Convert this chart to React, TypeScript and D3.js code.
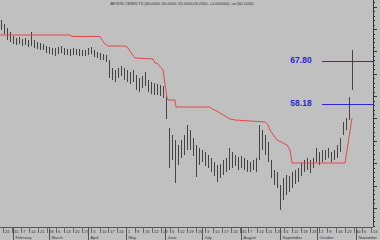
import React from "react";
import * as d3 from "d3";

const W = 380;
const H = 240;

const titleText =
  "AFXDN CM/ER.TD (60.0000, 60.0000, 65.0000,08.2000, +4.000000), ue (60.1000)";

// Daily bar highs / lows (price)
const highs = [
  77.03, 76.13, 75.24, 74.34, 73.45, 73.0, 73.22, 72.78, 73.0, 72.55,
  74.34, 72.55, 72.1, 71.88, 71.66, 71.21, 70.99, 70.76, 70.76, 70.99,
  71.21, 70.76, 70.54, 70.54, 70.76, 70.54, 70.54, 70.32, 70.32, 70.76,
  70.99, 70.32, 69.87, 69.65, 69.42, 69.2, 68.08, 66.29, 65.84, 66.29,
  66.74, 66.29, 65.84, 65.39, 65.84, 64.72, 64.05, 64.5, 65.39, 63.61,
  63.16, 62.93, 62.71, 62.49, 62.26, 60.25, 52.87, 51.3, 50.18, 49.07,
  50.18, 51.3, 53.54, 52.42, 50.63, 49.07, 48.4, 47.95, 47.5, 46.83,
  46.16, 45.26, 44.59, 44.82, 45.71, 46.16, 48.4, 47.5, 46.83, 46.38,
  46.61, 46.16, 45.71, 45.26, 45.71, 46.16, 53.54, 52.42, 51.3, 49.74,
  45.71, 43.47, 43.03, 40.12, 41.68, 42.36, 42.13, 43.03, 43.47, 43.92,
  45.04, 45.71, 46.16, 45.71, 46.16, 48.4, 47.5, 47.95, 47.95, 48.4,
  47.5, 47.95, 49.07, 50.63, 54.21, 55.11, 59.8, 70.32,
];
const lows = [
  74.79, 73.89, 72.55, 72.1, 71.66, 71.43, 71.66, 71.21, 71.43, 70.99,
  71.21, 70.76, 70.54, 70.32, 70.32, 69.65, 69.42, 69.2, 68.97, 69.42,
  69.65, 69.2, 69.2, 68.97, 69.2, 69.2, 68.97, 68.97, 68.97, 69.2,
  69.42, 68.75, 68.53, 68.08, 68.08, 67.63, 64.05, 63.61, 63.16, 64.05,
  64.5, 63.61, 63.16, 62.71, 63.16, 61.37, 60.92, 61.82, 62.26, 60.92,
  60.47, 60.25, 60.25, 60.03, 59.58, 54.88, 43.92, 45.71, 40.57, 44.59,
  46.16, 46.83, 47.95, 47.95, 46.61, 41.91, 44.59, 45.26, 44.37, 43.92,
  43.03, 42.13, 40.79, 41.68, 42.36, 43.03, 43.47, 43.92, 44.37, 43.47,
  43.92, 43.47, 43.03, 43.03, 43.47, 43.03, 45.71, 47.95, 46.83, 45.26,
  41.68, 40.12, 39.45, 34.53, 36.76, 37.88, 38.55, 39.45, 40.34, 40.79,
  42.13, 43.03, 43.47, 42.8, 43.92, 45.26, 44.59, 45.26, 45.71, 46.16,
  45.26, 45.71, 46.16, 47.5, 51.3, 52.42, 54.66, 61.37,
];

// Trailing stop (bar index, price)
const stopIdx = [
  -0.33, 23, 23.67, 33, 34.33, 35.67, 41.33, 42, 44.67, 50.67, 51.33, 52, 54,
  55.33, 55.67, 58, 58.33, 69.67, 70.33, 71.33, 76.33, 78, 88, 89, 89.67, 92,
  95.33, 96.33, 97, 114.67, 117,
];
const stopVal = [
  73.67, 73.67, 73.34, 73.34, 71.88, 71.21, 71.21, 70.99, 68.53, 68.3, 67.41,
  67.41, 65.84, 59.58, 59.13, 59.13, 57.57, 57.57, 57.12, 56.9, 54.88, 54.66,
  54.21, 53.54, 52.42, 50.18, 49.07, 47.95, 45.04, 45.04, 55.11,
];

// Horizontal level lines
const levels = [67.8, 58.18];
const levelLabels = ["67.80", "58.18"];

const dateStart = new Date(2000, 0, 21, 12);
const dateEnd = new Date(2000, 10, 14, 12);

const FONT = "Liberation Sans, Arial, sans-serif";

export default function App() {
  const plotRight = 373;
  const plotBottom = 227;

  const x = d3.scaleLinear().domain([0, highs.length - 1]).range([1, 352]);
  const y = d3.scaleLinear().domain([81.5, 30.5]).range([0, 228]);
  const t = d3.scaleTime().domain([dateStart, dateEnd]).range([0, plotRight]);

  const stopLine = d3
    .line<number>()
    .x((_, i) => x(stopIdx[i]))
    .y((d) => y(d))(stopVal);

  const yTicks = d3.range(31, 82, 1);
  const weeks = d3.timeMonday.range(dateStart, dateEnd);
  const months = d3.timeMonth.range(dateStart, dateEnd);
  const monthFmt = d3.timeFormat("%B");
  const dayFmt = d3.timeFormat("%-d");

  return (
    <svg
      width={W}
      height={H}
      style={{ position: "absolute", left: 0, top: 0, display: "block" }}
    >
      <rect x={0} y={0} width={W} height={H} fill="#c0c0c0" />
      <text
        x={182}
        y={5}
        fontSize={4}
        fontFamily={FONT}
        fill="#333"
        textAnchor="middle"
        textLength={143}
        lengthAdjust="spacingAndGlyphs"
      >
        {titleText}
      </text>

      {/* bars */}
      <g stroke="#444" strokeWidth={1}>
        {highs.map((h, i) => (
          <line
            key={i}
            x1={Math.round(x(i)) + 0.5}
            x2={Math.round(x(i)) + 0.5}
            y1={y(h)}
            y2={y(lows[i])}
          />
        ))}
      </g>

      {/* trailing stop */}
      <path d={stopLine || ""} fill="none" stroke="#e04a4a" strokeWidth={1} />

      {/* level lines */}
      {levels.map((lv, i) => (
        <g key={i}>
          <line
            x1={322}
            x2={plotRight}
            y1={Math.round(y(lv)) + 0.5}
            y2={Math.round(y(lv)) + 0.5}
            stroke="#2828d8"
            strokeWidth={1}
          />
          <text
            x={301}
            y={y(lv) + 1.5}
            fontSize={8.5}
            fontWeight="bold"
            fontFamily={FONT}
            fill="#2a2ad0"
            textAnchor="middle"
          >
            {levelLabels[i]}
          </text>
        </g>
      ))}

      {/* right axis */}
      <line x1={plotRight + 0.5} x2={plotRight + 0.5} y1={0} y2={plotBottom} stroke="#333" />
      {yTicks.map((v) => (
        <line
          key={v}
          x1={plotRight}
          x2={plotRight + (v % 5 === 0 ? 4 : 2)}
          y1={Math.round(y(v)) + 0.5}
          y2={Math.round(y(v)) + 0.5}
          stroke="#333"
        />
      ))}

      {/* bottom axis */}
      <line x1={0} x2={plotRight} y1={plotBottom + 0.5} y2={plotBottom + 0.5} stroke="#555" />
      {weeks.map((d, i) => {
        const xx = Math.round(t(d)) + 0.5;
        return (
          <g key={"w" + i}>
            <line x1={xx} x2={xx} y1={plotBottom} y2={plotBottom + 6} stroke="#666" />
            <text x={xx + 1.5} y={plotBottom + 5.5} fontSize={4.2} fontFamily={FONT} fill="#333">
              {dayFmt(d)}
            </text>
          </g>
        );
      })}
      {months.map((d, i) => {
        const xx = Math.round(t(d)) + 0.5;
        return (
          <g key={"m" + i}>
            <line x1={xx} x2={xx} y1={plotBottom} y2={H} stroke="#555" />
            <text x={xx + 2} y={plotBottom + 12} fontSize={4} fontFamily={FONT} fill="#333">
              {monthFmt(d)}
            </text>
          </g>
        );
      })}
    </svg>
  );
}
